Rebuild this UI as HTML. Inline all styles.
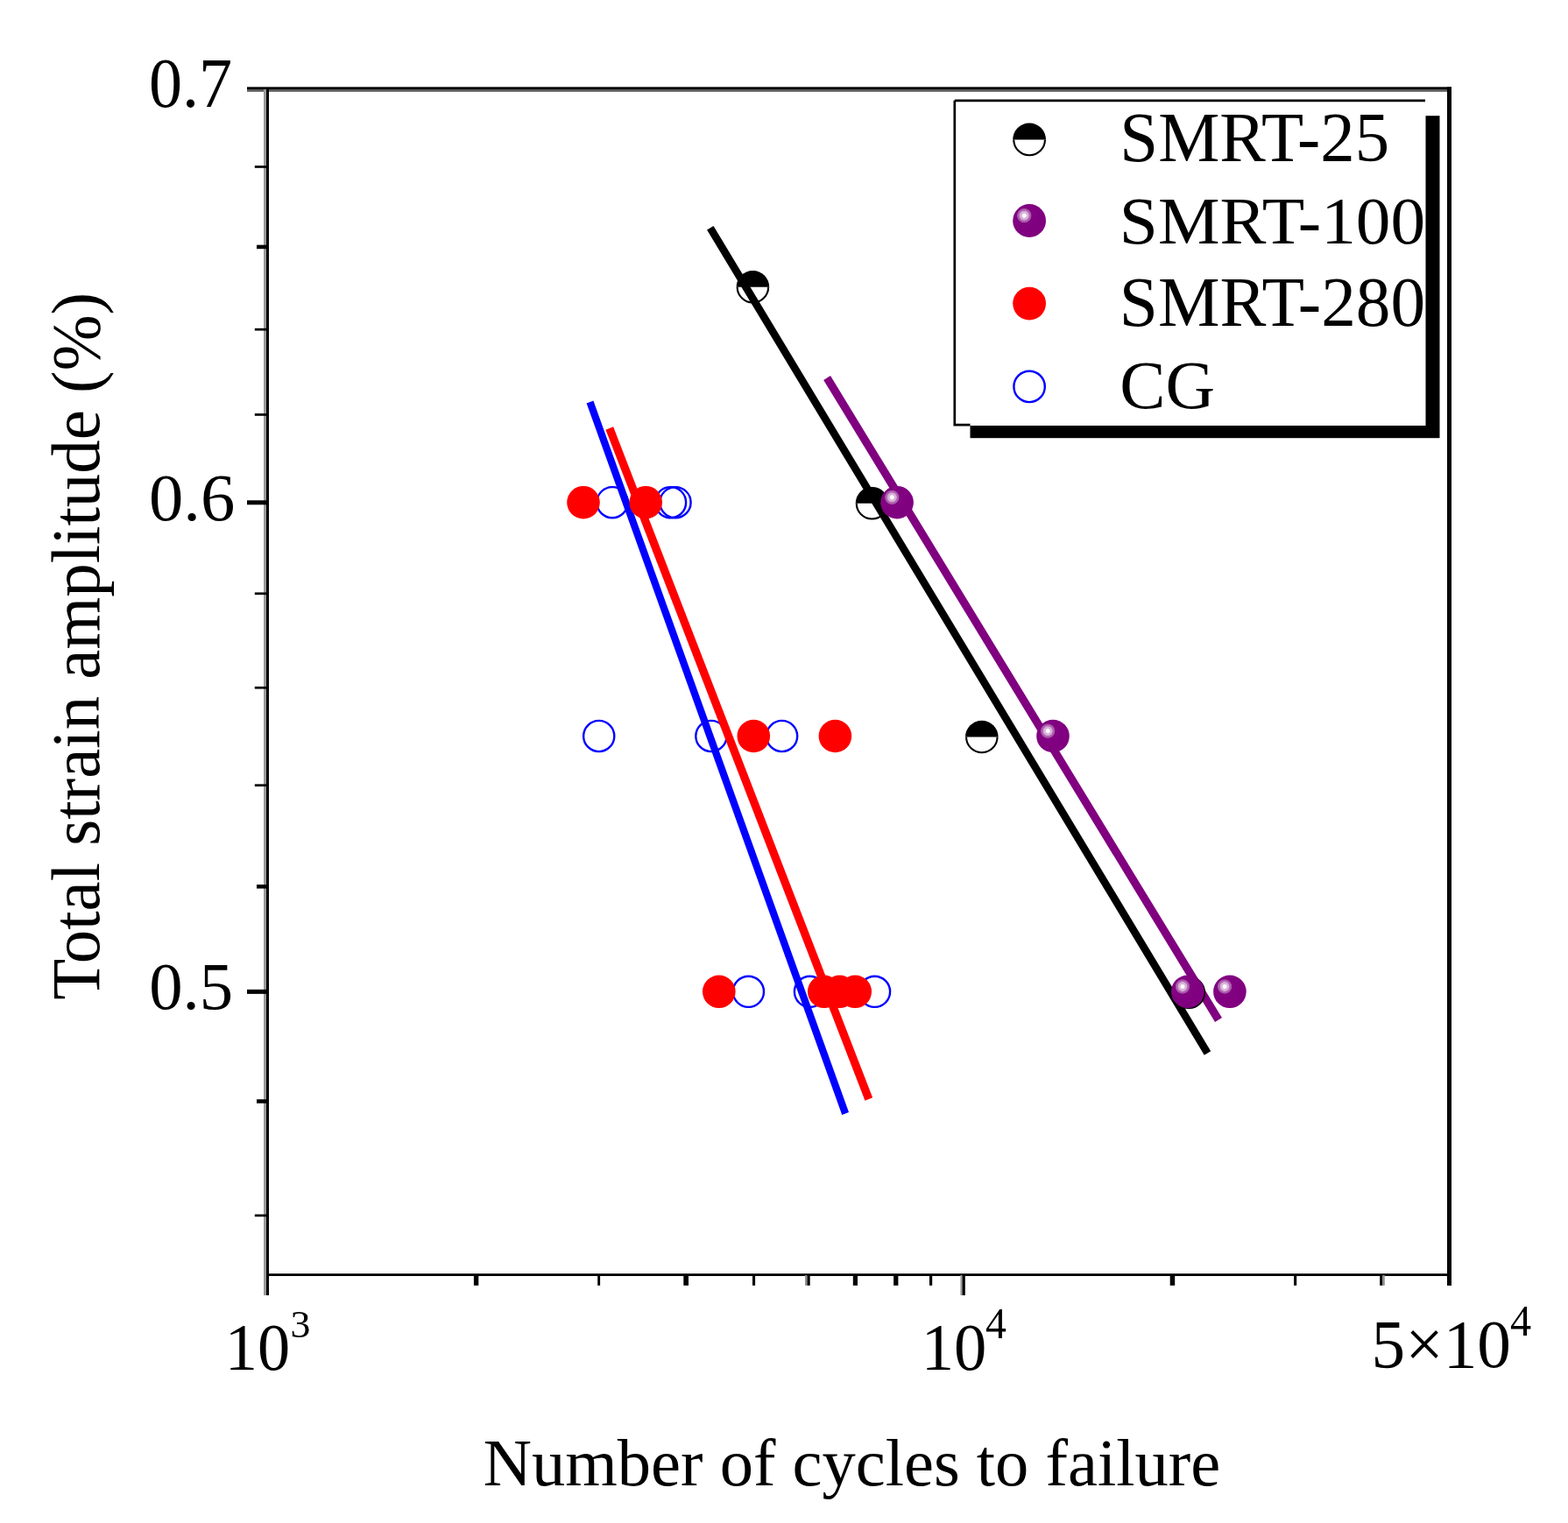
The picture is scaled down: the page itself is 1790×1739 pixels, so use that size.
<!DOCTYPE html><html><head><meta charset="utf-8"><style>html,body{margin:0;padding:0;background:#fff;}svg{display:block}</style></head><body>
<svg width="1790" height="1739" viewBox="0 0 1790 1739" font-family="'Liberation Serif', 'Times New Roman', serif">
<defs><radialGradient id="sph" cx="0.345" cy="0.345" r="0.5" fx="0.345" fy="0.345" gradientUnits="objectBoundingBox"><stop offset="0" stop-color="#ffffff"/><stop offset="0.12" stop-color="#fbf6fb"/><stop offset="0.15" stop-color="#dcb8dc"/><stop offset="0.27" stop-color="#d6aad6"/><stop offset="0.30" stop-color="#b46cb4"/><stop offset="0.41" stop-color="#a654a6"/><stop offset="0.45" stop-color="#820482"/><stop offset="1" stop-color="#800080"/></radialGradient></defs>
<rect width="1790" height="1739" fill="#fff"/>
<g fill="#000">
<rect x="282" y="99.3" width="1375" height="2.8"/>
<rect x="282" y="102" width="1370" height="2.8" fill="#5c5c5c"/>
<rect x="301" y="102" width="3" height="1377" fill="#999"/>
<rect x="304" y="102" width="3" height="1377"/>
<rect x="304" y="1454.2" width="1353" height="2.8"/>
<rect x="1652" y="99.3" width="5" height="1368.6"/>
<rect x="282" y="571.30" width="22" height="5"/>
<rect x="282" y="1129.84" width="22" height="5"/>
<rect x="290.8" y="189.11" width="13.2" height="2.7"/>
<rect x="290.8" y="374.84" width="13.2" height="2.7"/>
<rect x="290.8" y="472.10" width="13.2" height="2.7"/>
<rect x="290.8" y="676.41" width="13.2" height="2.7"/>
<rect x="290.8" y="783.91" width="13.2" height="2.7"/>
<rect x="290.8" y="895.32" width="13.2" height="2.7"/>
<rect x="290.8" y="1386.54" width="13.2" height="2.7"/>
<rect x="293" y="279.67" width="11" height="4.5"/>
<rect x="293" y="1010.04" width="11" height="4.5"/>
<rect x="293" y="1255.25" width="11" height="4.5"/>
<rect x="540.90" y="1456" width="5.40" height="11.8"/>
<rect x="682.20" y="1456" width="2.90" height="11.8"/>
<rect x="780.30" y="1456" width="5.70" height="11.8"/>
<rect x="859.00" y="1456" width="3.10" height="11.8"/>
<rect x="921.30" y="1456" width="3.40" height="11.8"/>
<rect x="973.80" y="1456" width="5.20" height="11.8"/>
<rect x="1020.10" y="1456" width="5.30" height="11.8"/>
<rect x="1061.00" y="1456" width="3.20" height="11.8"/>
<rect x="1335.70" y="1456" width="5.50" height="11.8"/>
<rect x="1477.10" y="1456" width="3.10" height="11.8"/>
<rect x="1575.20" y="1456" width="3.10" height="11.8"/>
<rect x="919.1" y="1456" width="2.2" height="11.8" fill="#888"/>
<rect x="1578.3" y="1456" width="2.4" height="11.8" fill="#888"/>
<rect x="1096.4" y="1456" width="2.1" height="23" fill="#999"/>
<rect x="1098.5" y="1456" width="3.3" height="23"/>
</g>
<circle cx="699.00" cy="573.70" r="17.60" fill="none" stroke="#0000ff" stroke-width="2.4"/>
<circle cx="765.50" cy="573.70" r="17.60" fill="none" stroke="#0000ff" stroke-width="2.4"/>
<circle cx="771.00" cy="573.70" r="17.60" fill="none" stroke="#0000ff" stroke-width="2.4"/>
<circle cx="683.70" cy="840.50" r="17.60" fill="none" stroke="#0000ff" stroke-width="2.4"/>
<circle cx="811.90" cy="840.50" r="17.60" fill="none" stroke="#0000ff" stroke-width="2.4"/>
<circle cx="892.60" cy="840.50" r="17.60" fill="none" stroke="#0000ff" stroke-width="2.4"/>
<circle cx="854.40" cy="1132.30" r="17.60" fill="none" stroke="#0000ff" stroke-width="2.4"/>
<circle cx="924.50" cy="1132.30" r="17.60" fill="none" stroke="#0000ff" stroke-width="2.4"/>
<circle cx="998.50" cy="1132.30" r="17.60" fill="none" stroke="#0000ff" stroke-width="2.4"/>
<g stroke-width="9" stroke-linecap="butt" fill="none">
<line x1="673.5" y1="459" x2="965.1" y2="1271.5" stroke="#0000ff" stroke-width="8.3"/>
<line x1="695.8" y1="489" x2="991.8" y2="1255" stroke="#ff0000" stroke-width="9.3"/>
<line x1="810.8" y1="260.3" x2="1378.5" y2="1202.4" stroke="#000" stroke-width="8.7"/>
<line x1="944.1" y1="431.5" x2="1391" y2="1164.5" stroke="#800080" stroke-width="9.2"/>
</g>
<g><path d="M841.65,327.80 A17.75,17.75 0 0 0 877.15,327.80" fill="none" stroke="#000" stroke-width="2.1"/><path d="M840.60,327.80 A18.80,18.80 0 0 1 878.20,327.80 Z" fill="#000"/></g>
<g><path d="M977.75,574.70 A17.75,17.75 0 0 0 1013.25,574.70" fill="none" stroke="#000" stroke-width="2.1"/><path d="M976.70,574.70 A18.80,18.80 0 0 1 1014.30,574.70 Z" fill="#000"/></g>
<g><path d="M1103.05,841.50 A17.75,17.75 0 0 0 1138.55,841.50" fill="none" stroke="#000" stroke-width="2.1"/><path d="M1102.00,841.50 A18.80,18.80 0 0 1 1139.60,841.50 Z" fill="#000"/></g>
<g><path d="M1339.55,1133.30 A17.75,17.75 0 0 0 1375.05,1133.30" fill="none" stroke="#000" stroke-width="2.1"/><path d="M1338.50,1133.30 A18.80,18.80 0 0 1 1376.10,1133.30 Z" fill="#000"/></g>
<circle cx="1024.10" cy="573.70" r="18.80" fill="url(#sph)"/>
<circle cx="1202.00" cy="840.50" r="18.80" fill="url(#sph)"/>
<circle cx="1355.80" cy="1132.30" r="18.80" fill="url(#sph)"/>
<circle cx="1403.90" cy="1132.30" r="18.80" fill="url(#sph)"/>
<circle cx="666.00" cy="573.70" r="18.80" fill="#ff0000"/>
<circle cx="737.20" cy="573.70" r="18.80" fill="#ff0000"/>
<circle cx="860.30" cy="840.50" r="18.80" fill="#ff0000"/>
<circle cx="953.40" cy="840.50" r="18.80" fill="#ff0000"/>
<circle cx="820.80" cy="1132.30" r="18.80" fill="#ff0000"/>
<circle cx="940.80" cy="1132.30" r="18.80" fill="#ff0000"/>
<circle cx="958.50" cy="1132.30" r="18.80" fill="#ff0000"/>
<circle cx="976.20" cy="1132.30" r="18.80" fill="#ff0000"/>
<rect x="1107.5" y="132.2" width="536" height="368" fill="#000"/>
<rect x="1088.5" y="113.5" width="539" height="372.5" fill="#fff"/>
<path d="M1089.8,114.8 H1627 M1089.8,114.8 V485.2 H1107.5" stroke="#000" stroke-width="2.7" fill="none"/>
<g><path d="M1157.25,159.40 A17.85,17.85 0 0 0 1192.95,159.40" fill="none" stroke="#000" stroke-width="2.1"/><path d="M1156.20,159.40 A18.90,18.90 0 0 1 1194.00,159.40 Z" fill="#000"/></g>
<circle cx="1175.10" cy="252.00" r="18.90" fill="url(#sph)"/>
<circle cx="1175.10" cy="346.60" r="18.90" fill="#ff0000"/>
<circle cx="1175.10" cy="441.40" r="17.70" fill="none" stroke="#0000ff" stroke-width="2.4"/>
<g fill="#000">
<text transform="translate(169.95,122.08) scale(0.7619,0.8104)" font-size="100">0.7</text>
<text transform="translate(169.95,593.86) scale(0.7864,0.7716)" font-size="100">0.6</text>
<text transform="translate(170.23,1152.46) scale(0.7667,0.7716)" font-size="100">0.5</text>
<text transform="translate(256.71,1564.28) scale(0.7437,0.7588)" font-size="100">10</text>
<text transform="translate(331.51,1527.15) scale(0.4585,0.4515)" font-size="100">3</text>
<text transform="translate(1051.69,1564.08) scale(0.7460,0.7588)" font-size="100">10</text>
<text transform="translate(1125.04,1527.70) scale(0.4783,0.5031)" font-size="100">4</text>
<text transform="translate(1565.56,1560.92) scale(0.7726,0.7882)" font-size="100">5×10</text>
<text transform="translate(1724.03,1525.00) scale(0.4826,0.5062)" font-size="100">4</text>
<text transform="translate(551.80,1696.20) scale(0.7652,0.7620)" font-size="100">Number of cycles to failure</text>
<text transform="translate(1278.28,183.60) scale(0.7884,0.7938)" font-size="100">SMRT-25</text>
<text transform="translate(1277.85,278.20) scale(0.7933,0.7667)" font-size="100">SMRT-100</text>
<text transform="translate(1277.85,372.30) scale(0.7933,0.8046)" font-size="100">SMRT-280</text>
<text transform="translate(1278.27,466.40) scale(0.7826,0.7785)" font-size="100">CG</text>
<text transform="translate(113.30,1141.84) rotate(-90) scale(0.7690,0.7850)" font-size="100">Total strain amplitude (%)</text>
</g>
</svg></body></html>
